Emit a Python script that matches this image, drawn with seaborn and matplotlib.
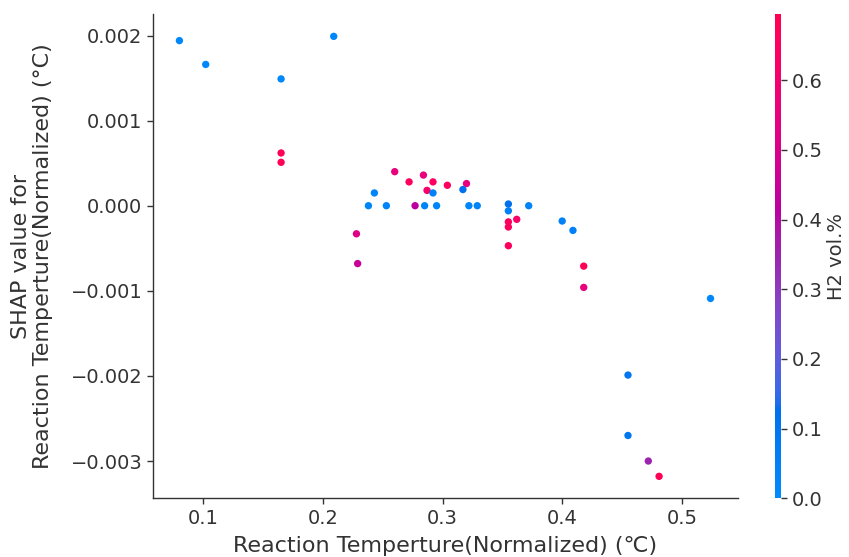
import numpy as np
import pandas as pd
import seaborn as sns
import matplotlib
matplotlib.use('Agg')
from matplotlib import pyplot as plt
from matplotlib.colors import LinearSegmentedColormap, Normalize
from matplotlib.cm import ScalarMappable

# values
reaction_temp = [0.080, 0.102, 0.165, 0.209, 0.165, 0.165, 0.260, 0.272, 0.284, 0.292,
                 0.287, 0.292, 0.304, 0.320, 0.317, 0.243, 0.238, 0.253, 0.277, 0.285,
                 0.295, 0.322, 0.329, 0.355, 0.355, 0.355, 0.355, 0.362, 0.355, 0.372,
                 0.400, 0.409, 0.228, 0.229, 0.418, 0.418, 0.524, 0.455, 0.455, 0.472,
                 0.481]
shap_value = [0.00194, 0.00166, 0.00149, 0.00199, 0.00062, 0.00051, 0.00040, 0.00028,
              0.00036, 0.00028, 0.00018, 0.00015, 0.00024, 0.00026, 0.00019, 0.00015,
              0.0, 0.0, 0.0, 0.0, 0.0, 0.0, 0.0, 0.00002, -0.00006, -0.00019, -0.00025,
              -0.00016, -0.00047, 0.0, -0.00018, -0.00029, -0.00033, -0.00068, -0.00071,
              -0.00096, -0.00109, -0.00199, -0.00270, -0.00300, -0.00318]
h2_vol = [0.02, 0.02, 0.02, 0.02, 0.68, 0.68, 0.55, 0.65, 0.55, 0.65, 0.62, 0.05, 0.65,
          0.55, 0.12, 0.03, 0.03, 0.03, 0.42, 0.03, 0.03, 0.03, 0.03, 0.12, 0.05, 0.65,
          0.65, 0.62, 0.65, 0.03, 0.05, 0.05, 0.52, 0.45, 0.68, 0.55, 0.02, 0.10, 0.10,
          0.35, 0.68]

x_ticks = [0.1, 0.2, 0.3, 0.4, 0.5]
y_ticks = [0.002, 0.001, 0.0, -0.001, -0.002, -0.003]
cbar_ticks = [0.0, 0.1, 0.2, 0.3, 0.4, 0.5, 0.6]


def lch_to_rgb(l, c, h):
    """Convert one CIE LCh colour to sRGB (D65)."""
    a, b = c * np.cos(h), c * np.sin(h)
    fy = (l + 16) / 116
    fx, fz = fy + a / 500, fy - b / 200

    def finv(t):
        return t ** 3 if t > 6 / 29 else 3 * (6 / 29) ** 2 * (t - 4 / 29)

    xyz = np.array([0.95047 * finv(fx), finv(fy), 1.08883 * finv(fz)])
    m = np.array([[3.2406, -1.5372, -0.4986],
                  [-0.9689, 1.8758, 0.0415],
                  [0.0557, -0.2040, 1.0570]])
    lin = m @ xyz
    rgb = np.where(lin <= 0.0031308, 12.92 * lin, 1.055 * np.abs(lin) ** (1 / 2.4) - 0.055)
    return np.clip(rgb, 0, 1)


def red_blue_cmap():
    """Blue -> purple -> red map in the style of shap."""
    blue_lch = [54., 70., 4.6588]
    red_lch = [54., 90., 0.35470565 + 2 * np.pi]
    l_mid, n = 40., 100
    l_vals = list(np.linspace(blue_lch[0], l_mid, n // 2)) + list(np.linspace(l_mid, red_lch[0], n // 2))
    c_vals = np.linspace(blue_lch[1], red_lch[1], n)
    h_vals = np.linspace(blue_lch[2], red_lch[2], n)
    colors = [lch_to_rgb(l, c, h) for l, c, h in zip(l_vals, c_vals, h_vals)]
    return LinearSegmentedColormap.from_list('red_blue', colors)


df = pd.DataFrame({'temp': reaction_temp, 'shap': shap_value, 'h2': h2_vol})
cmap = red_blue_cmap()
vmin, vmax = 0.0, 0.695
axis_color = '#333333'

sns.set_style('white')
plt.rcParams['font.family'] = ['DejaVu Sans']

fig = plt.figure(figsize=(8.49, 5.57), dpi=100)
ax = fig.add_axes([0.1799, 0.1054, 0.6894, 0.8695])
sns.scatterplot(data=df, x='temp', y='shap', hue='h2', palette=cmap,
                hue_norm=(vmin, vmax), s=28, linewidth=0, legend=False, ax=ax)

ax.set_xlim(0.0577, 0.547)
ax.set_ylim(-0.003438, 0.002253)
ax.set_xticks(x_ticks)
ax.set_yticks(y_ticks)
ax.set_xticklabels([f'{t:.1f}' for t in x_ticks])
ax.set_yticklabels([f'{t:.3f}'.replace('-', '\u2212') for t in y_ticks])
ax.set_xlabel('Reaction Temperture(Normalized) (\u2103)', fontsize=16, color=axis_color, labelpad=6)
ax.set_ylabel('SHAP value for\nReaction Temperture(Normalized) (\u00b0C)', fontsize=16,
              color=axis_color, labelpad=13, linespacing=1.1)
ax.tick_params(axis='both', labelsize=14, colors=axis_color, length=4, width=1,
               left=True, bottom=True)
for side in ['top', 'right']:
    ax.spines[side].set_visible(False)
for side in ['left', 'bottom']:
    ax.spines[side].set_color(axis_color)
    ax.spines[side].set_linewidth(1)

cax = fig.add_axes([0.9128, 0.1054, 0.0071, 0.8695])
sm = ScalarMappable(norm=Normalize(vmin, vmax), cmap=cmap)
cb = fig.colorbar(sm, cax=cax, ticks=cbar_ticks)
cb.outline.set_visible(False)
cb.ax.tick_params(labelsize=14, colors=axis_color, length=4, width=1)
cb.set_label('H2 vol.%', fontsize=14, color=axis_color, labelpad=3)

fig.savefig('out.png', dpi=100)
